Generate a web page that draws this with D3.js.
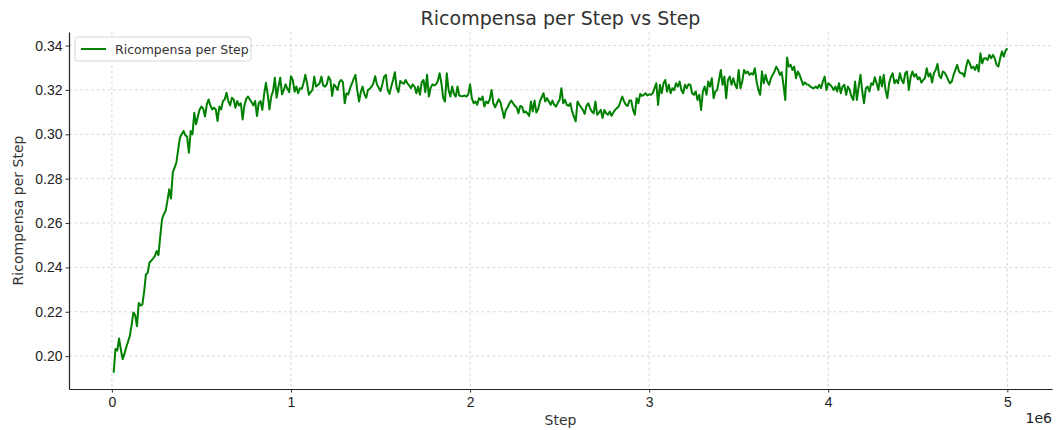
<!DOCTYPE html>
<html>
<head>
<meta charset="utf-8">
<script src="https://cdn.jsdelivr.net/npm/d3@7"></script>
<style>
  body { margin: 0; background: #fff; }
  svg { display: block; font-family: "DejaVu Sans", sans-serif; }
  .tick text { font-size: 14px; fill: #222; }
  .tick line { stroke: #333; }
  .domain { stroke: #222; stroke-width: 1.2; }
  .grid line { stroke: #cfcfcf; stroke-width: 0.8; stroke-dasharray: 3,2.5; }
</style>
</head>
<body>
<svg id="chart" width="1056" height="430"></svg>
<script>
// x positions: one point every 10000 steps
const steps = d3.range(10000, 5000001, 10000);

// reward per step
const rewards = [
  0.1925, 0.2032, 0.2025, 0.2080, 0.2030, 0.1986, 0.2010, 0.2040, 0.2065, 0.2090,
  0.2140, 0.2197, 0.2185, 0.2135, 0.2240, 0.2228, 0.2232, 0.2290, 0.2369, 0.2375,
  0.2422, 0.2430, 0.2440, 0.2451, 0.2474, 0.2455, 0.2540, 0.2617, 0.2640, 0.2654,
  0.2700, 0.2752, 0.2710, 0.2827, 0.2850, 0.2872, 0.2930, 0.2985, 0.3000, 0.3015,
  0.2995, 0.2990, 0.2917, 0.3015, 0.3000, 0.3097, 0.3045, 0.3080, 0.3112, 0.3125,
  0.3115, 0.3080, 0.3135, 0.3157, 0.3130, 0.3112, 0.3120, 0.3112, 0.3060, 0.3125,
  0.3112, 0.3150, 0.3157, 0.3187, 0.3150, 0.3130, 0.3165, 0.3157, 0.3120, 0.3150,
  0.3130, 0.3140, 0.3067, 0.3130, 0.3160, 0.3170, 0.3157, 0.3145, 0.3130, 0.3150,
  0.3082, 0.3140, 0.3150, 0.3110, 0.3180, 0.3232, 0.3180, 0.3112, 0.3172, 0.3195,
  0.3255, 0.3165, 0.3215, 0.3255, 0.3180, 0.3200, 0.3225, 0.3205, 0.3190, 0.3262,
  0.3245, 0.3192, 0.3215, 0.3185, 0.3208, 0.3205, 0.3230, 0.3268, 0.3230, 0.3178,
  0.3190, 0.3200, 0.3260, 0.3215, 0.3222, 0.3230, 0.3260, 0.3220, 0.3215, 0.3225,
  0.3260, 0.3245, 0.3173, 0.3225, 0.3215, 0.3200, 0.3235, 0.3245, 0.3235, 0.3140,
  0.3185, 0.3180, 0.3208, 0.3228, 0.3250, 0.3268, 0.3200, 0.3148, 0.3190, 0.3215,
  0.3180, 0.3165, 0.3200, 0.3205, 0.3215, 0.3230, 0.3262, 0.3225, 0.3210, 0.3195,
  0.3225, 0.3260, 0.3268, 0.3200, 0.3182, 0.3215, 0.3245, 0.3280, 0.3210, 0.3190,
  0.3240, 0.3232, 0.3228, 0.3245, 0.3230, 0.3220, 0.3208, 0.3225, 0.3215, 0.3185,
  0.3215, 0.3178, 0.3235, 0.3245, 0.3190, 0.3268, 0.3170, 0.3210, 0.3225, 0.3220,
  0.3225, 0.3240, 0.3275, 0.3230, 0.3165, 0.3148, 0.3275, 0.3200, 0.3170, 0.3215,
  0.3182, 0.3170, 0.3215, 0.3175, 0.3172, 0.3172, 0.3175, 0.3170, 0.3180, 0.3225,
  0.3163, 0.3140, 0.3148, 0.3133, 0.3163, 0.3155, 0.3170, 0.3125, 0.3148, 0.3140,
  0.3158, 0.3200, 0.3140, 0.3122, 0.3140, 0.3158, 0.3143, 0.3110, 0.3073, 0.3110,
  0.3122, 0.3140, 0.3152, 0.3140, 0.3128, 0.3122, 0.3095, 0.3128, 0.3125, 0.3098,
  0.3103, 0.3095, 0.3083, 0.3148, 0.3103, 0.3152, 0.3098, 0.3113, 0.3148, 0.3167,
  0.3185, 0.3148, 0.3163, 0.3148, 0.3133, 0.3152, 0.3133, 0.3125, 0.3143, 0.3155,
  0.3208, 0.3140, 0.3155, 0.3133, 0.3128, 0.3140, 0.3103, 0.3080, 0.3058, 0.3148,
  0.3133, 0.3122, 0.3110, 0.3092, 0.3128, 0.3140, 0.3118, 0.3103, 0.3095, 0.3148,
  0.3088, 0.3098, 0.3110, 0.3073, 0.3110, 0.3095, 0.3088, 0.3103, 0.3083, 0.3098,
  0.3110, 0.3118, 0.3125, 0.3148, 0.3170, 0.3148, 0.3133, 0.3128, 0.3152, 0.3152,
  0.3110, 0.3088, 0.3163, 0.3140, 0.3182, 0.3173, 0.3178, 0.3185, 0.3175, 0.3180,
  0.3178, 0.3185, 0.3208, 0.3230, 0.3133, 0.3223, 0.3185, 0.3230, 0.3245, 0.3193,
  0.3223, 0.3185, 0.3208, 0.3200, 0.3230, 0.3215, 0.3238, 0.3200, 0.3185, 0.3223,
  0.3208, 0.3226, 0.3223, 0.3185, 0.3178, 0.3193, 0.3155, 0.3178, 0.3110, 0.3193,
  0.3215, 0.3178, 0.3238, 0.3215, 0.3253, 0.3163, 0.3193, 0.3200, 0.3245, 0.3290,
  0.3223, 0.3260, 0.3163, 0.3245, 0.3260, 0.3223, 0.3253, 0.3223, 0.3208, 0.3290,
  0.3208, 0.3238, 0.3290, 0.3275, 0.3283, 0.3268, 0.3275, 0.3270, 0.3298, 0.3238,
  0.3200, 0.3178, 0.3283, 0.3230, 0.3268, 0.3238, 0.3223, 0.3253, 0.3268, 0.3283,
  0.3305, 0.3290, 0.3268, 0.3280, 0.3223, 0.3155, 0.3346, 0.3305, 0.3313, 0.3290,
  0.3305, 0.3253, 0.3283, 0.3268, 0.3245, 0.3223, 0.3234, 0.3225, 0.3223, 0.3215,
  0.3210, 0.3208, 0.3215, 0.3208, 0.3223, 0.3208, 0.3238, 0.3260, 0.3200, 0.3230,
  0.3223, 0.3215, 0.3200, 0.3215, 0.3193, 0.3230, 0.3185, 0.3215, 0.3223, 0.3178,
  0.3215, 0.3200, 0.3170, 0.3155, 0.3238, 0.3155, 0.3215, 0.3268, 0.3193, 0.3140,
  0.3208, 0.3215, 0.3193, 0.3230, 0.3223, 0.3257, 0.3230, 0.3200, 0.3260, 0.3215,
  0.3268, 0.3200, 0.3163, 0.3230, 0.3260, 0.3275, 0.3230, 0.3245, 0.3230, 0.3275,
  0.3245, 0.3230, 0.3275, 0.3283, 0.3200, 0.3257, 0.3283, 0.3260, 0.3272, 0.3248,
  0.3257, 0.3233, 0.3245, 0.3253, 0.3298, 0.3260, 0.3275, 0.3233, 0.3275, 0.3290,
  0.3317, 0.3263, 0.3253, 0.3283, 0.3278, 0.3263, 0.3245, 0.3230, 0.3238, 0.3268,
  0.3290, 0.3313, 0.3283, 0.3275, 0.3275, 0.3260, 0.3305, 0.3335, 0.3320, 0.3298,
  0.3305, 0.3290, 0.3313, 0.3283, 0.3365, 0.3320, 0.3343, 0.3343, 0.3335, 0.3358,
  0.3343, 0.3358, 0.3343, 0.3313, 0.3305, 0.3343, 0.3373, 0.3350, 0.3377, 0.3388
];

const xTicks = [0, 1e6, 2e6, 3e6, 4e6, 5e6];
const yTicks = [0.20, 0.22, 0.24, 0.26, 0.28, 0.30, 0.32, 0.34];
const seriesName = 'Ricompensa per Step';

const data = steps.map((s, i) => ({ step: s, reward: rewards[i] }));

const margin = { top: 32, right: 4, bottom: 41, left: 69 };
const width = 1056, height = 430;
const svg = d3.select('#chart');

// matplotlib-style 5% padding around the data range
const xExt = d3.extent(steps), yExt = d3.extent(rewards);
const xPad = (xExt[1] - xExt[0]) * 0.05, yPad = (yExt[1] - yExt[0]) * 0.05;

const x = d3.scaleLinear()
  .domain([xExt[0] - xPad, xExt[1] + xPad])
  .range([margin.left, width - margin.right]);
const y = d3.scaleLinear()
  .domain([yExt[0] - yPad, yExt[1] + yPad])
  .range([height - margin.bottom, margin.top]);

// dashed grid
svg.append('g').attr('class', 'grid')
  .selectAll('line').data(xTicks).join('line')
  .attr('x1', d => x(d)).attr('x2', d => x(d))
  .attr('y1', margin.top).attr('y2', height - margin.bottom);
svg.append('g').attr('class', 'grid')
  .selectAll('line').data(yTicks).join('line')
  .attr('x1', margin.left).attr('x2', width - margin.right)
  .attr('y1', d => y(d)).attr('y2', d => y(d));

// axes (left + bottom spines only)
svg.append('g')
  .attr('transform', `translate(0,${height - margin.bottom})`)
  .call(d3.axisBottom(x).tickValues(xTicks).tickFormat(d => d / 1e6).tickSize(3.5).tickPadding(4).tickSizeOuter(0))
  .call(g => g.selectAll('.tick text').attr('dy', '0.78em'));

svg.append('g')
  .attr('transform', `translate(${margin.left},0)`)
  .call(d3.axisLeft(y).tickValues(yTicks).tickFormat(d3.format('.2f')).tickSize(3.5).tickPadding(3).tickSizeOuter(0));

// line
svg.append('path')
  .datum(data)
  .attr('fill', 'none')
  .attr('stroke', '#008000')
  .attr('stroke-width', 2)
  .attr('stroke-linejoin', 'round')
  .attr('d', d3.line().x(d => x(d.step)).y(d => y(d.reward)));

// labels
svg.append('text')
  .attr('x', (margin.left + width - margin.right) / 2).attr('y', 25)
  .attr('text-anchor', 'middle')
  .style('font-size', '19px').style('fill', '#333')
  .text(`${seriesName} vs Step`);

svg.append('text')
  .attr('x', (margin.left + width - margin.right) / 2).attr('y', 425)
  .attr('text-anchor', 'middle')
  .style('font-size', '14px').style('fill', '#333')
  .text('Step');

svg.append('text')
  .attr('transform', `translate(23,${(margin.top + height - margin.bottom) / 2}) rotate(-90)`)
  .attr('text-anchor', 'middle')
  .style('font-size', '14px').style('fill', '#333')
  .text(seriesName);

svg.append('text')
  .attr('x', width - 4).attr('y', 423)
  .attr('text-anchor', 'end')
  .style('font-size', '14px').style('fill', '#222')
  .text('1e6');

// legend
const legend = svg.append('g').attr('transform', 'translate(75,37)');
legend.append('rect')
  .attr('width', 176).attr('height', 24).attr('rx', 3)
  .attr('fill', 'white').attr('fill-opacity', 0.8)
  .attr('stroke', '#d5d5d5');
legend.append('line')
  .attr('x1', 6).attr('x2', 31).attr('y1', 12).attr('y2', 12)
  .attr('stroke', '#008000').attr('stroke-width', 2);
legend.append('text')
  .attr('x', 40).attr('y', 16.5)
  .style('font-size', '12.5px').style('fill', '#333')
  .text(seriesName);
</script>
</body>
</html>
